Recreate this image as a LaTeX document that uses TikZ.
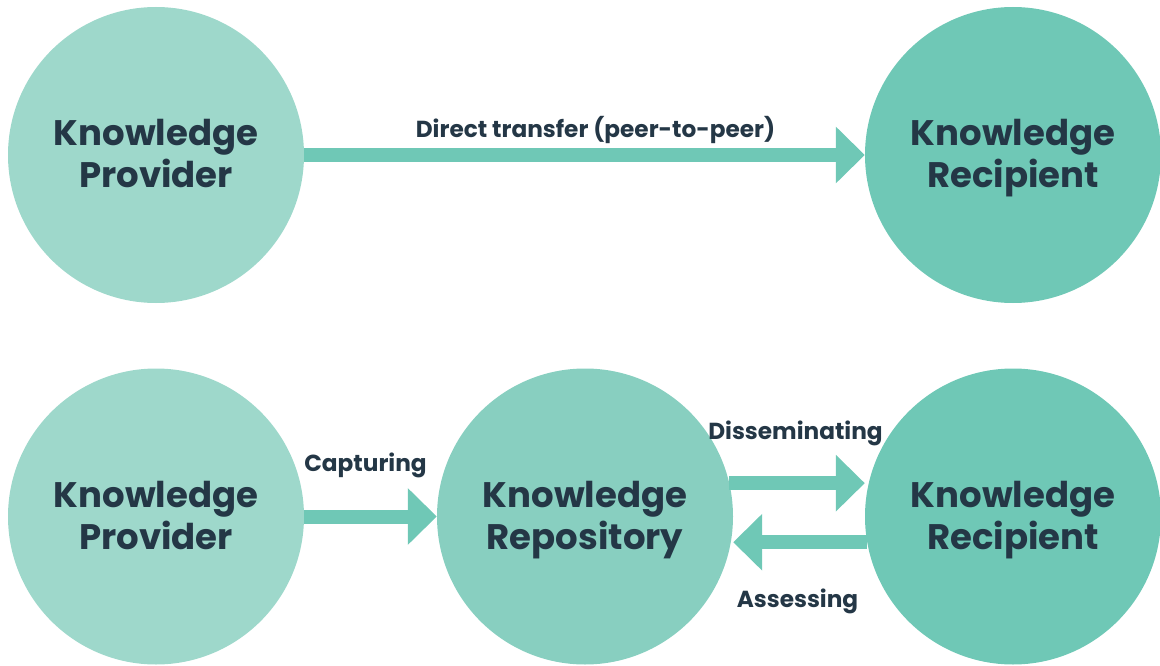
\documentclass[tikz,border=0pt]{standalone}
\usepackage{fontspec}
\setmainfont{Poppins}
\usetikzlibrary{arrows.meta}
\definecolor{cprov}{HTML}{9ED8CB}
\definecolor{crepo}{HTML}{88CFC0}
\definecolor{crec}{HTML}{6FC8B6}
\definecolor{carrow}{HTML}{6FC8B6}
\definecolor{ctext}{HTML}{243746}
\tikzset{
  bubble/.style={circle, minimum size=296pt, inner sep=0pt, draw=none, align=center,
    text height=66pt, text depth=0pt,
    text=ctext, font=\fontsize{35.5}{42}\selectfont\bfseries},
  flow/.style={draw=carrow, line width=14pt, -{Triangle[length=29pt, width=55pt]}},
  lbl/.style={anchor=base, text=ctext, inner sep=0pt, font=\fontsize{23.2}{28}\selectfont\bfseries}
}
\begin{document}
\begin{tikzpicture}[x=1pt, y=-1pt]
\useasboundingbox (0,0) rectangle (1160,666);
% top row
\node[bubble, fill=cprov] (kp1) at (156,155) {Knowledge\\Provider};
\node[bubble, fill=crec] (kr1) at (1013,155) {Knowledge\\Recipient};
\draw[flow] (kp1) -- (kr1);
\node[lbl] (ldt) at (595.5,137.3) {Direct transfer (peer-to-peer)};
% bottom row
\node[bubble, fill=cprov] (kp2) at (156,516.5) {Knowledge\\Provider};
\node[bubble, fill=crepo] (repo) at (585,516.5) {Knowledge\\Repository};
\node[bubble, fill=crec] (kr2) at (1013,516.5) {Knowledge\\Recipient};
\draw[flow] (kp2) -- (repo);
\draw[flow] (repo.13) -- (repo.13 -| kr2.west);
\draw[flow] (kr2.190) -- (kr2.190 -| repo.east);
\node[lbl] (lcap) at (365.5,471.5) {Capturing};
\node[lbl] (ldis) at (795.5,439.3) {Disseminating};
\node[lbl] (lass) at (797.5,607) {Assessing};
\end{tikzpicture}
\end{document}
